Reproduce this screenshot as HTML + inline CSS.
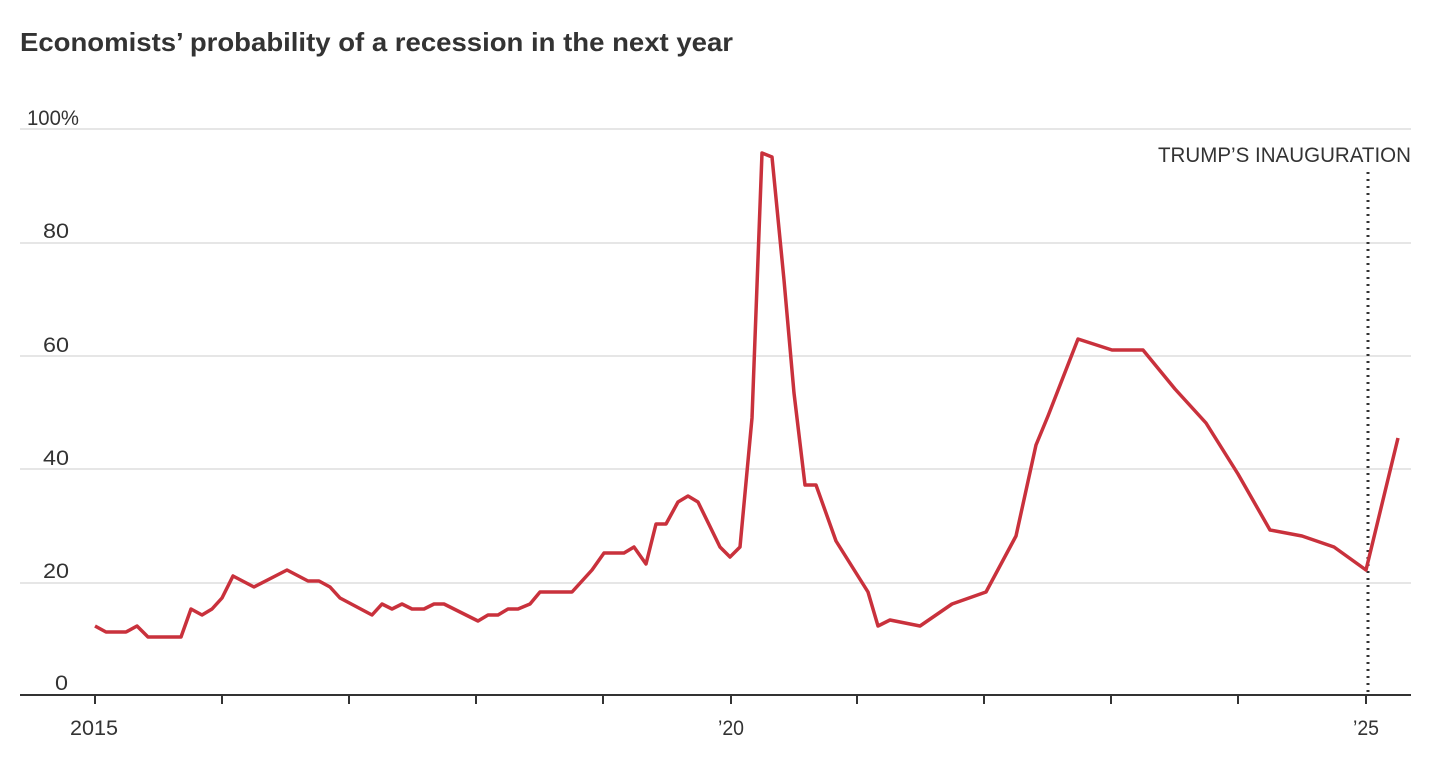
<!DOCTYPE html>
<html><head><meta charset="utf-8"><style>
html,body{margin:0;padding:0;background:#fff;}
svg{display:block;}
text{font-family:"Liberation Sans",sans-serif;}
</style></head><body>
<svg width="1442" height="759" viewBox="0 0 1442 759" xmlns="http://www.w3.org/2000/svg">
<text x="20" y="51" font-size="26" font-weight="bold" fill="#333" textLength="713" lengthAdjust="spacingAndGlyphs">Economists’ probability of a recession in the next year</text>
<g stroke="#e6e6e6" stroke-width="2">
<line x1="20" y1="129" x2="1411" y2="129"/>
<line x1="20" y1="243" x2="1411" y2="243"/>
<line x1="20" y1="356" x2="1411" y2="356"/>
<line x1="20" y1="469" x2="1411" y2="469"/>
<line x1="20" y1="583" x2="1411" y2="583"/>
</g>
<g font-size="21" fill="#333">
<text x="27" y="125" textLength="52" lengthAdjust="spacingAndGlyphs">100%</text>
<text x="43" y="238" textLength="26" lengthAdjust="spacingAndGlyphs">80</text>
<text x="43" y="352" textLength="26" lengthAdjust="spacingAndGlyphs">60</text>
<text x="43" y="465" textLength="26" lengthAdjust="spacingAndGlyphs">40</text>
<text x="43" y="578" textLength="26" lengthAdjust="spacingAndGlyphs">20</text>
<text x="55" y="690" textLength="13" lengthAdjust="spacingAndGlyphs">0</text>
<text x="70" y="735" textLength="48" lengthAdjust="spacingAndGlyphs">2015</text>
<text x="718" y="735" textLength="26" lengthAdjust="spacingAndGlyphs">’20</text>
<text x="1353" y="735" textLength="26" lengthAdjust="spacingAndGlyphs">’25</text>
<text x="1411" y="162" text-anchor="end" textLength="253" lengthAdjust="spacingAndGlyphs">TRUMP’S INAUGURATION</text>
</g>
<line x1="20" y1="695" x2="1411" y2="695" stroke="#333" stroke-width="2"/>
<g stroke="#333" stroke-width="2">
<line x1="95" y1="695" x2="95" y2="704"/><line x1="222" y1="695" x2="222" y2="704"/>
<line x1="349" y1="695" x2="349" y2="704"/><line x1="476" y1="695" x2="476" y2="704"/>
<line x1="603" y1="695" x2="603" y2="704"/><line x1="731" y1="695" x2="731" y2="704"/>
<line x1="857" y1="695" x2="857" y2="704"/><line x1="984" y1="695" x2="984" y2="704"/>
<line x1="1111" y1="695" x2="1111" y2="704"/><line x1="1238" y1="695" x2="1238" y2="704"/>
<line x1="1366" y1="695" x2="1366" y2="704"/>
</g>
<line x1="1368" y1="172" x2="1368" y2="695" stroke="#333" stroke-width="3" stroke-dasharray="2,5"/>
<polyline fill="none" stroke="#c9313c" stroke-width="3.5" stroke-linejoin="round" points="95,626 106,632 126,632 137,626 148,637 181,637 191,609 202,615 212,609 222,598 233,576 254,587 287,570 308,581 319,581 330,587 340,598 372,615 382,604 392,609 402,604 412,609 424,609 434,604 444,604 478,621 488,615 498,615 508,609 518,609 530,604 540,592 572,592 592,570 604,553 624,553 634,547 646,564 656,524 666,524 678,502 688,496 698,502 720,547 730,557 740,547 752,418 762,153 772,157 784,280 794,393 805,485 816,485 836,541 868,592 878,626 890,620 920,626 952,604 986,592 1016,536 1036,445 1048,416 1078,339 1112,350 1143,350 1175,389 1206,423 1238,474 1270,530 1302,536 1334,547 1366,570 1398,438"/>
</svg>
</body></html>
